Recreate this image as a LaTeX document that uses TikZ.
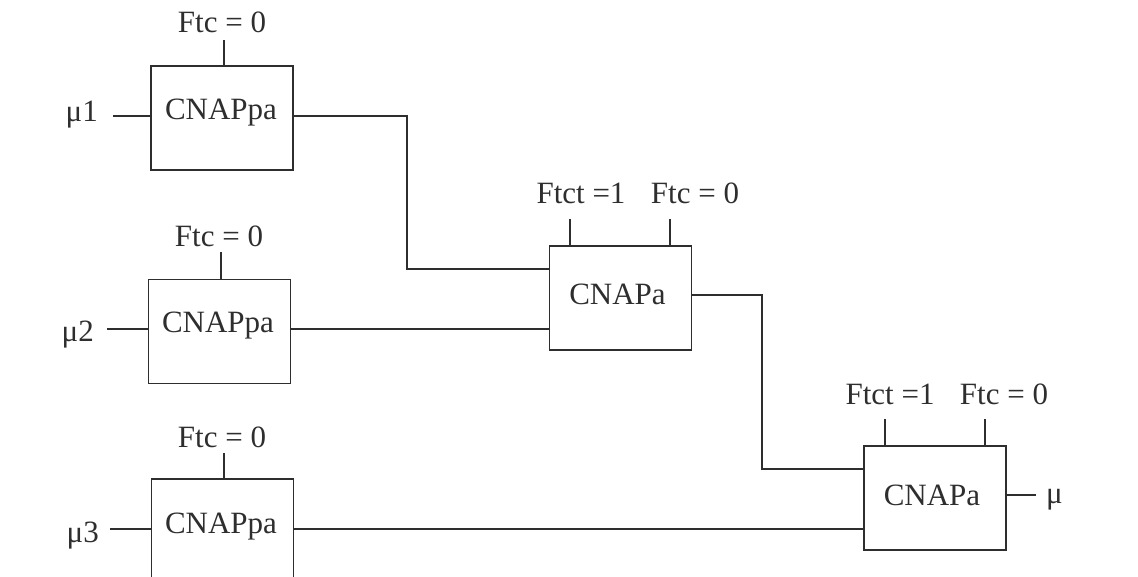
\documentclass[tikz,border=0pt]{standalone}
\usepackage{fontspec}
\setmainfont{Liberation Serif}
\definecolor{ink}{HTML}{2E2E2E}
\begin{document}
\begin{tikzpicture}[x=1pt,y=-1pt,
  box/.style={draw=ink, line width=1.3pt, minimum width=142pt, minimum height=104pt, inner sep=0pt, outer sep=0pt},
  txt/.style={font=\fontsize{31}{36}\selectfont, inner sep=0pt, text=ink},
  wire/.style={draw=ink, line width=1.3pt}]
\useasboundingbox (0,0) rectangle (1138,577);
\clip (0,0) rectangle (1138,577);
% boxes
\node[box] (b1) at (222,118) {};
\node[box] (b2) at (219.5,331.5) {};
\node[box] (b3) at (222.5,531) {};
\node[box] (a1) at (620.5,298) {};
\node[box] (a2) at (935,498) {};
% box texts
\node[txt, anchor=base] (t1) at (221,119.5) {CNAPpa};
\node[txt, anchor=base] (t2) at (218,333) {CNAPpa};
\node[txt, anchor=base] (t3) at (221,533) {CNAPpa};
\node[txt, anchor=base] (t4) at (617.5,305) {CNAPa};
\node[txt, anchor=base] (t5) at (932,505) {CNAPa};
% top labels
\node[txt, anchor=base] (f1) at (222,33) {Ftc = 0};
\node[txt, anchor=base] (f2) at (219,246.5) {Ftc = 0};
\node[txt, anchor=base] (f3) at (222,447) {Ftc = 0};
\node[txt, anchor=base] (g1) at (581,204) {Ftct =1};
\node[txt, anchor=base] (h1) at (695,204) {Ftc = 0};
\node[txt, anchor=base] (g2) at (890,404) {Ftct =1};
\node[txt, anchor=base] (h2) at (1004,404) {Ftc = 0};
% input labels
\node[txt, anchor=base east] (m1) at (98,121.5) {μ1};
\node[txt, anchor=base east] (m2) at (94,341.5) {μ2};
\node[txt, anchor=base east] (m3) at (99,542.5) {μ3};
\node[txt, anchor=base west] (mo) at (1046,503) {μ};
% free ends
\coordinate (i1) at (113,116);
\coordinate (i2) at (107,329);
\coordinate (i3) at (110,529);
\coordinate (o1) at (1036,495);
\coordinate (s1) at (224,40);
\coordinate (s2) at (221,252);
\coordinate (s3) at (224,453);
\coordinate (s4) at (570,219);
\coordinate (s5) at (670,219);
\coordinate (s6) at (885,419);
\coordinate (s7) at (985,419);
\coordinate (j1) at (407,200);
\coordinate (j2) at (762,380);
% inputs
\draw[wire] (i1) -- ([yshift=2pt]b1.west);
\draw[wire] (i2) -- ([yshift=2.5pt]b2.west);
\draw[wire] (i3) -- ([yshift=2pt]b3.west);
% stubs
\draw[wire] (s1) -- (s1 |- b1.north);
\draw[wire] (s2) -- (s2 |- b2.north);
\draw[wire] (s3) -- (s3 |- b3.north);
\draw[wire] (s4) -- (s4 |- a1.north);
\draw[wire] (s5) -- (s5 |- a1.north);
\draw[wire] (s6) -- (s6 |- a2.north);
\draw[wire] (s7) -- (s7 |- a2.north);
% connectors
\draw[wire] ([yshift=2pt]b1.east) -| (j1) |- ([yshift=29pt]a1.west);
\draw[wire] ([yshift=2.5pt]b2.east) -- ([yshift=-31pt]a1.west);
\draw[wire] ([yshift=3pt]a1.east) -| (j2) |- ([yshift=29pt]a2.west);
\draw[wire] ([yshift=2pt]b3.east) -- ([yshift=-31pt]a2.west);
\draw[wire] ([yshift=3pt]a2.east) -- (o1);
\end{tikzpicture}
\end{document}
